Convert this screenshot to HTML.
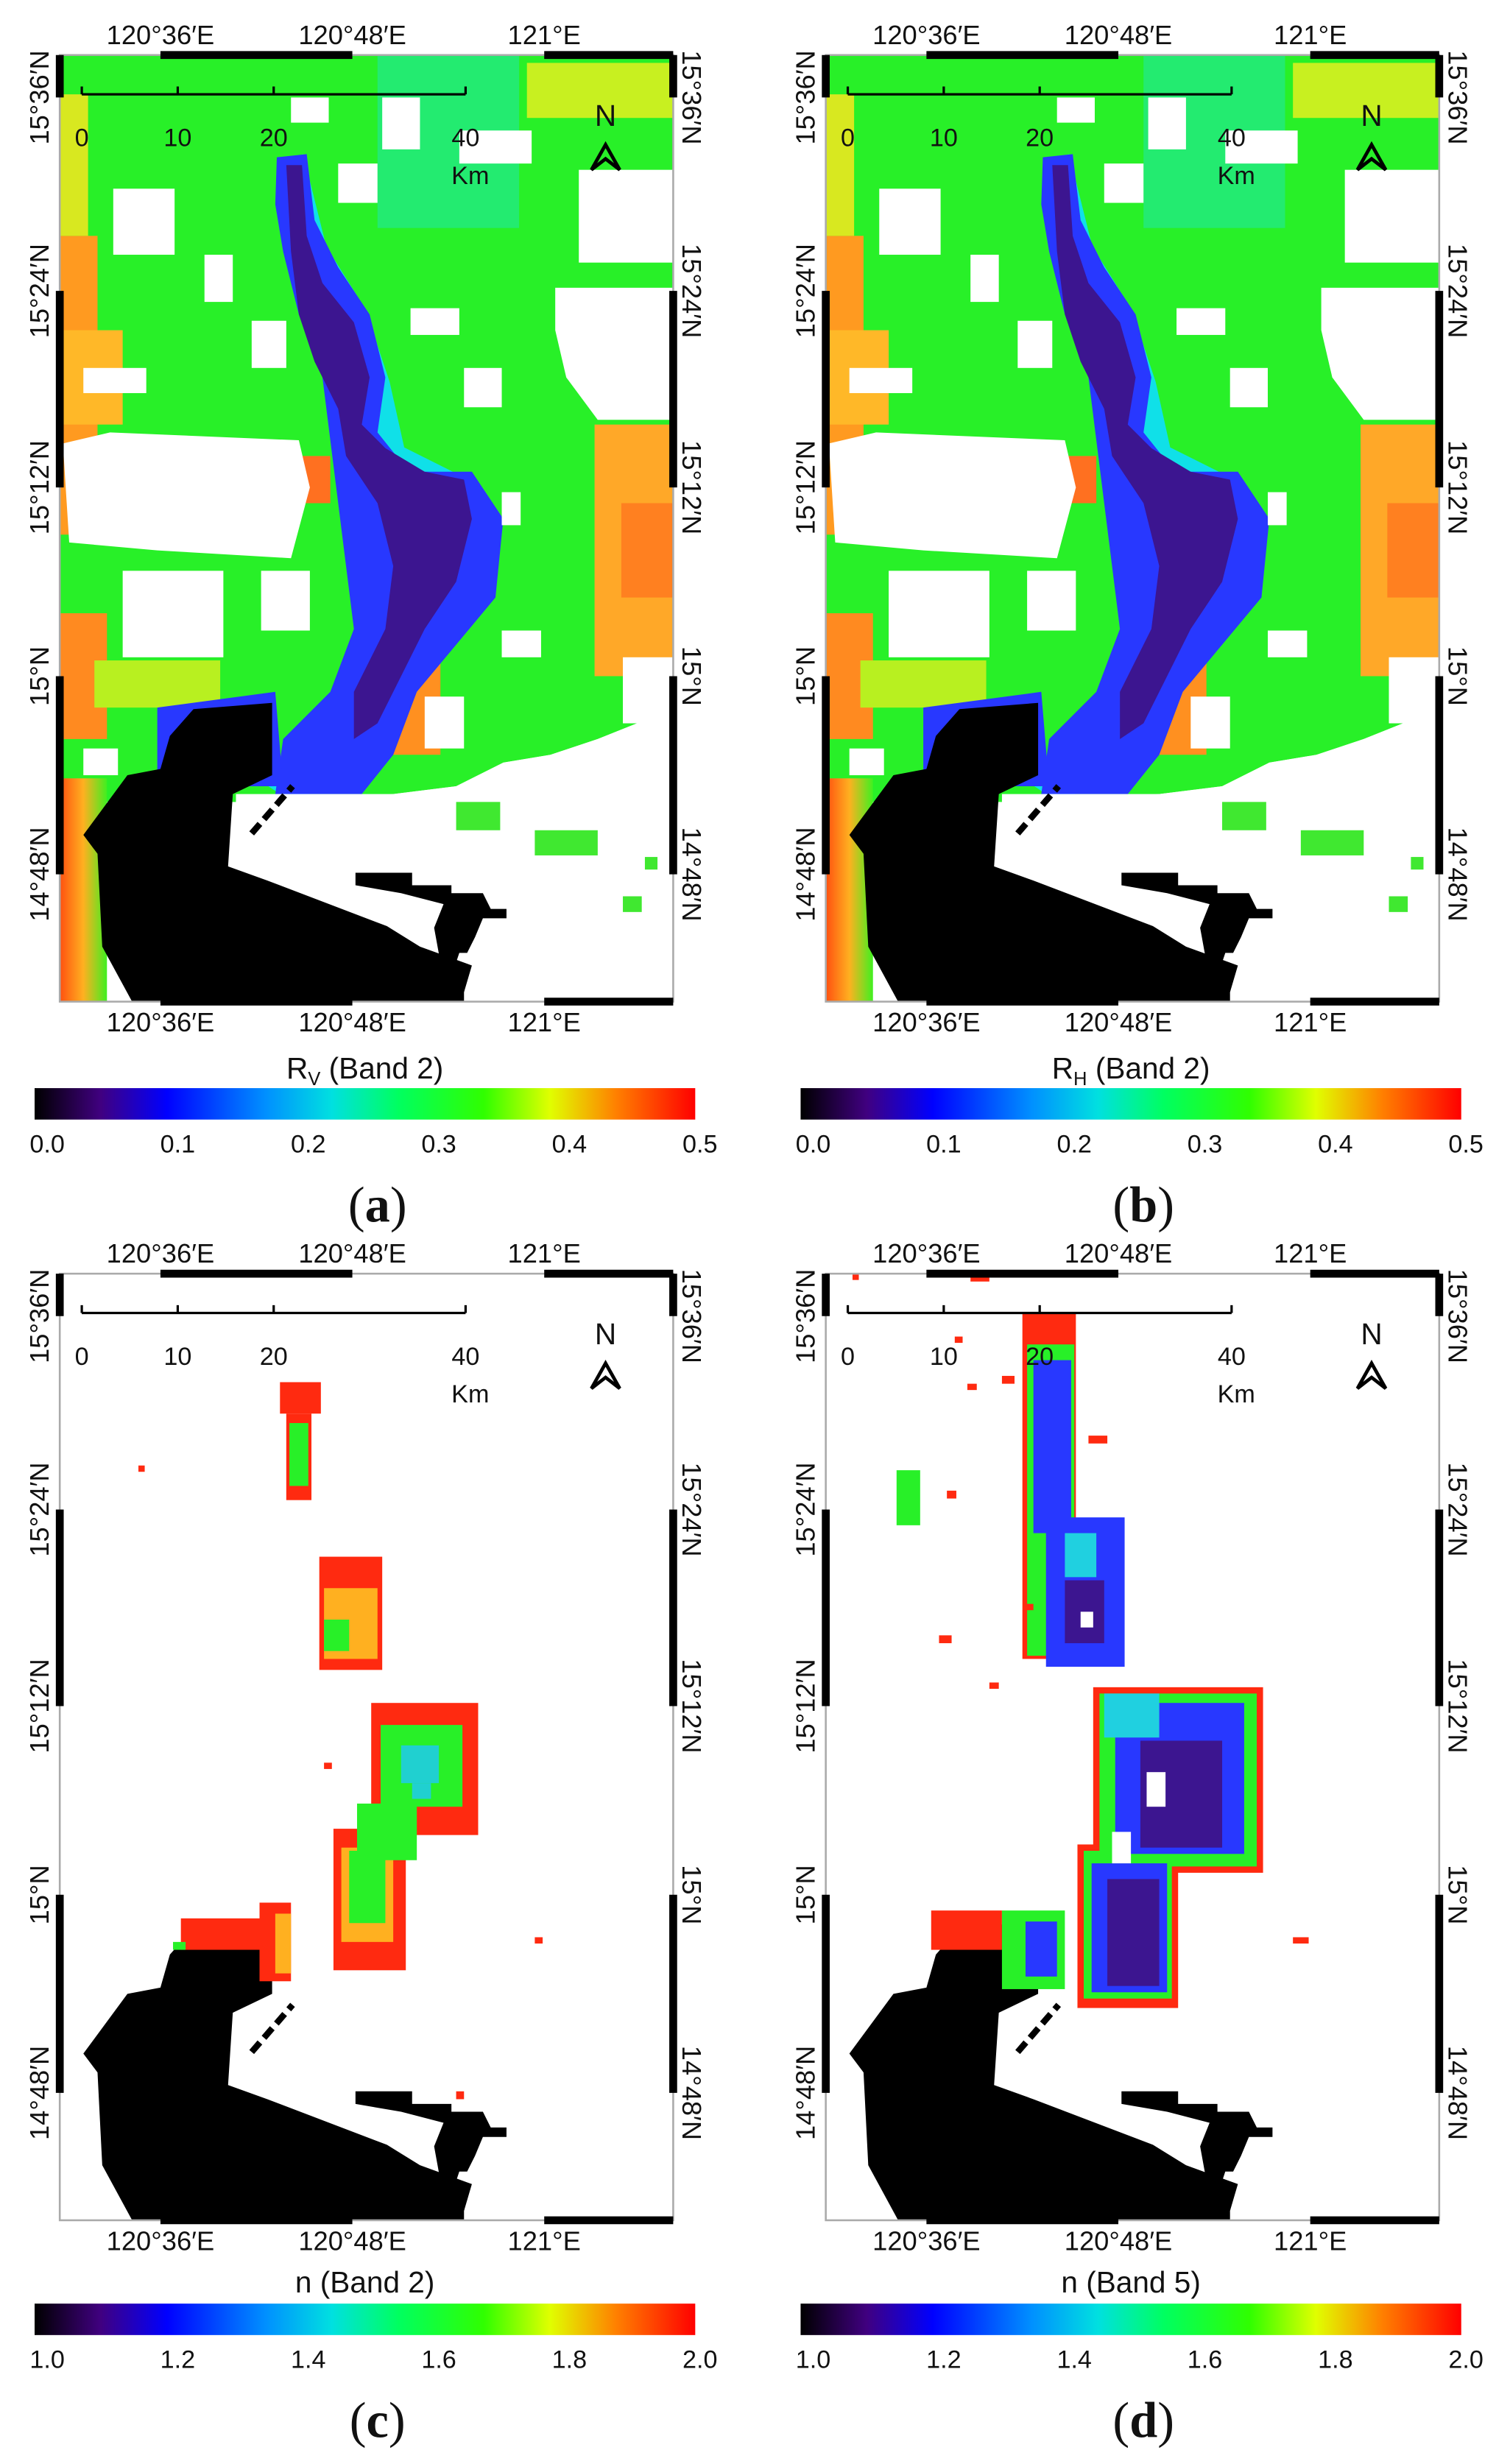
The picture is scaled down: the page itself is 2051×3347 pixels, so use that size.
<!DOCTYPE html>
<html><head><meta charset="utf-8"><style>
html,body{margin:0;padding:0;background:#fff;}
svg{display:block;}
text{font-family:"Liberation Sans",sans-serif;fill:#111;}
.t{font-size:17px;text-anchor:middle;}
.s{font-size:16px;text-anchor:middle;}
.lab{font-family:"Liberation Serif",serif;font-size:32px;text-anchor:middle;}
</style></head><body>
<svg width="2051" height="3347" viewBox="0 0 960 1567" preserveAspectRatio="none" xmlns="http://www.w3.org/2000/svg">
<defs>
<linearGradient id="jet" x1="0" x2="1" y1="0" y2="0">
<stop offset="0" stop-color="#000"/><stop offset="0.1" stop-color="#400080"/><stop offset="0.2" stop-color="#0000ff"/><stop offset="0.35" stop-color="#0090ff"/><stop offset="0.45" stop-color="#00e0e0"/><stop offset="0.55" stop-color="#00ff60"/><stop offset="0.68" stop-color="#30ff00"/><stop offset="0.78" stop-color="#e0ff00"/><stop offset="0.88" stop-color="#ff8000"/><stop offset="1" stop-color="#ff0000"/>
</linearGradient>
<linearGradient id="edge" x1="0" x2="1"><stop offset="0" stop-color="#ff5010"/><stop offset="0.5" stop-color="#ffb020"/><stop offset="1" stop-color="#40f020"/></linearGradient>
<clipPath id="clip"><rect x="38" y="35" width="390" height="602"/></clipPath>
<g id="bay">
<path fill="#000" d="M123,451 L173,447 L173,493 L148,505 L145,551 L170,560 L246,589 L267,602 L300,614 L295,631 L295,637 L84,637 L65,602 L62,543 L53,531 L81,493 L102,489 L108,468 Z"/>
<path fill="#000" d="M226,555 h36 v8 h25 v5 h20 l5,10 h10 v6 h-15 l-5,12 l-5,10 h-5 l-5,15 L296,631 L280,612 L276,590 L282,575 L255,568 L226,563 Z"/>
<path d="M160,530 L186,500" stroke="#000" stroke-width="4" stroke-dasharray="8,4"/>
</g>
<g id="frame">
<rect x="38" y="35" width="390" height="602" fill="none" stroke="#aaa" stroke-width="1.2"/>
<path d="M102,35 H224 M346,35 H428 M102,637 H224 M346,637 H428" stroke="#000" stroke-width="5"/>
<path d="M38,35 V62 M38,185 V310 M38,430 V556 M428,35 V62 M428,185 V310 M428,430 V556" stroke="#000" stroke-width="5"/>
<path d="M52,60 H296 M52,55 V60 M113,55 V60 M174,55 V60 M296,55 V60" stroke="#000" stroke-width="1.5" fill="none"/>
<path d="M376,108 L385,92 L394,108 L385,101 Z" fill="none" stroke="#000" stroke-width="2.2"/>
</g>
<g id="mapAB">
<path fill="#28f028" d="M38,35 H428 V440 L405,460 L380,470 L350,480 L320,485 L290,500 L250,505 L175,510 L38,510 Z"/>
<rect x="38" y="495" width="30" height="142" fill="url(#edge)"/>
<rect x="38" y="150" width="24" height="190" fill="#ff9a20"/>
<rect x="38" y="210" width="40" height="60" fill="#ffb828"/>
<rect x="38" y="390" width="30" height="80" fill="#ff8a20"/>
<rect x="38" y="60" width="18" height="90" fill="#d8e820"/>
<rect x="378" y="270" width="50" height="160" fill="#ffa828"/>
<rect x="395" y="320" width="33" height="60" fill="#ff8020"/>
<rect x="335" y="40" width="93" height="35" fill="#c8f020"/>
<rect x="245" y="420" width="35" height="60" fill="#ff9020"/>
<rect x="190" y="290" width="20" height="30" fill="#ff7020"/>
<rect x="60" y="420" width="80" height="30" fill="#b8f020"/>
<rect x="240" y="35" width="90" height="110" fill="#20e8a0" opacity="0.6"/>
<path fill="none" stroke="#10e0e8" stroke-width="16" stroke-linejoin="round" d="M185,100 L200,160 L225,200 L240,245 L250,290 L290,310 L305,350 L270,410 L250,450 L220,490 L185,500 L140,470"/>
<path fill="#2838ff" d="M176,100 L195,98 L200,140 L215,170 L235,200 L245,240 L240,275 L260,300 L300,300 L320,330 L315,380 L290,410 L265,440 L250,480 L230,505 L200,505 L175,505 L180,470 L210,440 L225,400 L220,360 L215,320 L210,280 L205,240 L190,200 L180,160 L175,130 Z"/>
<path fill="#3c1590" d="M182,105 L192,105 L195,150 L205,180 L225,205 L235,240 L230,270 L245,285 L270,300 L295,305 L300,330 L290,370 L270,400 L255,430 L240,460 L225,470 L225,440 L245,400 L250,360 L240,320 L220,290 L215,260 L200,230 L190,200 L185,160 Z"/>
<path fill="#2838ff" d="M100,450 L175,440 L180,500 L100,500 Z"/>
<g fill="#fff">
<rect x="185" y="62" width="24" height="16"/><rect x="215" y="104" width="25" height="25"/><rect x="243" y="62" width="24" height="33"/>
<rect x="292" y="83" width="46" height="21"/><rect x="72" y="120" width="39" height="42"/><rect x="130" y="162" width="18" height="30"/>
<rect x="160" y="204" width="22" height="30"/><rect x="261" y="196" width="31" height="17"/><rect x="368" y="108" width="60" height="59"/>
<path d="M353,183 H428 V267 H380 L360,240 L353,210 Z"/><rect x="53" y="234" width="40" height="16"/><rect x="295" y="234" width="24" height="25"/>
<path d="M40,282 L70,275 L190,280 L197,310 L185,355 L100,350 L44,345 Z"/><rect x="319" y="313" width="12" height="21"/>
<rect x="78" y="363" width="64" height="55"/><rect x="166" y="363" width="31" height="38"/><rect x="319" y="401" width="25" height="17"/>
<rect x="396" y="418" width="32" height="42"/><rect x="270" y="443" width="25" height="33"/><rect x="53" y="476" width="22" height="17"/>
<path d="M150,505 L250,505 L290,500 L320,485 L350,480 L380,470 L405,460 L428,440 V637 H150 Z"/>
</g>
<g fill="#40e830"><rect x="340" y="528" width="40" height="16"/><rect x="396" y="570" width="12" height="10"/><rect x="290" y="510" width="28" height="18"/><rect x="410" y="545" width="8" height="8"/></g>
<use href="#bay"/>
</g>
</defs>

<!-- Panel a -->
<g clip-path="url(#clip)"><use href="#mapAB"/></g>
<use href="#frame"/>
<g>
<text class="t" x="102" y="28">120°36′E</text><text class="t" x="224" y="28">120°48′E</text><text class="t" x="346" y="28">121°E</text>
<text class="t" x="102" y="656">120°36′E</text><text class="t" x="224" y="656">120°48′E</text><text class="t" x="346" y="656">121°E</text>
<text class="t" transform="translate(31,62) rotate(-90)">15°36′N</text><text class="t" transform="translate(31,185) rotate(-90)">15°24′N</text><text class="t" transform="translate(31,310) rotate(-90)">15°12′N</text><text class="t" transform="translate(31,430) rotate(-90)">15°N</text><text class="t" transform="translate(31,556) rotate(-90)">14°48′N</text>
<text class="t" transform="translate(434,62) rotate(90)">15°36′N</text><text class="t" transform="translate(434,185) rotate(90)">15°24′N</text><text class="t" transform="translate(434,310) rotate(90)">15°12′N</text><text class="t" transform="translate(434,430) rotate(90)">15°N</text><text class="t" transform="translate(434,556) rotate(90)">14°48′N</text>
<text class="s" x="52" y="93">0</text><text class="s" x="113" y="93">10</text><text class="s" x="174" y="93">20</text><text class="s" x="296" y="93">40</text><text class="s" x="299" y="117">Km</text>
<text class="t" x="385" y="80" style="font-size:19px">N</text>
<text class="t" x="232" y="686" style="font-size:19px">R<tspan font-size="12" dy="4">V</tspan><tspan dy="-4"> (Band 2)</tspan></text>
<rect x="22" y="692" width="420" height="20" fill="url(#jet)"/>
<text class="s" x="30" y="733">0.0</text><text class="s" x="113" y="733">0.1</text><text class="s" x="196" y="733">0.2</text><text class="s" x="279" y="733">0.3</text><text class="s" x="362" y="733">0.4</text><text class="s" x="445" y="733">0.5</text>
<text class="lab" x="240" y="777">(<tspan font-weight="bold">a</tspan>)</text>
</g>

<!-- Panel b -->
<g transform="translate(487,0)">
<g clip-path="url(#clip)"><use href="#mapAB"/></g>
<use href="#frame"/>
<text class="t" x="102" y="28">120°36′E</text><text class="t" x="224" y="28">120°48′E</text><text class="t" x="346" y="28">121°E</text>
<text class="t" x="102" y="656">120°36′E</text><text class="t" x="224" y="656">120°48′E</text><text class="t" x="346" y="656">121°E</text>
<text class="t" transform="translate(31,62) rotate(-90)">15°36′N</text><text class="t" transform="translate(31,185) rotate(-90)">15°24′N</text><text class="t" transform="translate(31,310) rotate(-90)">15°12′N</text><text class="t" transform="translate(31,430) rotate(-90)">15°N</text><text class="t" transform="translate(31,556) rotate(-90)">14°48′N</text>
<text class="t" transform="translate(434,62) rotate(90)">15°36′N</text><text class="t" transform="translate(434,185) rotate(90)">15°24′N</text><text class="t" transform="translate(434,310) rotate(90)">15°12′N</text><text class="t" transform="translate(434,430) rotate(90)">15°N</text><text class="t" transform="translate(434,556) rotate(90)">14°48′N</text>
<text class="s" x="52" y="93">0</text><text class="s" x="113" y="93">10</text><text class="s" x="174" y="93">20</text><text class="s" x="296" y="93">40</text><text class="s" x="299" y="117">Km</text>
<text class="t" x="385" y="80" style="font-size:19px">N</text>
<text class="t" x="232" y="686" style="font-size:19px">R<tspan font-size="12" dy="4">H</tspan><tspan dy="-4"> (Band 2)</tspan></text>
<rect x="22" y="692" width="420" height="20" fill="url(#jet)"/>
<text class="s" x="30" y="733">0.0</text><text class="s" x="113" y="733">0.1</text><text class="s" x="196" y="733">0.2</text><text class="s" x="279" y="733">0.3</text><text class="s" x="362" y="733">0.4</text><text class="s" x="445" y="733">0.5</text>
<text class="lab" x="240" y="777">(<tspan font-weight="bold">b</tspan>)</text>
</g>

<!-- Panel c -->
<g transform="translate(0,775)">
<g clip-path="url(#clip)">
<use href="#bay"/>
<g fill="#ff2a10"><rect x="178" y="104" width="26" height="20"/><rect x="182" y="124" width="16" height="55"/><rect x="203" y="215" width="40" height="72"/><rect x="236" y="308" width="68" height="84"/><rect x="212" y="388" width="46" height="90"/><rect x="115" y="445" width="55" height="20"/><rect x="165" y="435" width="20" height="50"/></g>
<g fill="#ffb020"><rect x="206" y="235" width="34" height="45"/><rect x="217" y="400" width="33" height="60"/><rect x="175" y="442" width="10" height="38"/></g>
<g fill="#28f028"><rect x="184" y="130" width="12" height="40"/><rect x="242" y="322" width="52" height="52"/><rect x="227" y="372" width="38" height="36"/><rect x="222" y="402" width="23" height="46"/><rect x="206" y="255" width="16" height="20"/><rect x="110" y="460" width="8" height="5"/></g>
<g fill="#20d0d0"><rect x="255" y="335" width="24" height="24"/><rect x="262" y="359" width="12" height="10"/></g>
<g fill="#ff2a10"><rect x="88" y="157" width="4" height="4"/><rect x="206" y="346" width="5" height="4"/><rect x="340" y="457" width="5" height="4"/><rect x="290" y="555" width="5" height="5"/></g>
</g>
<use href="#frame"/>
<text class="t" x="102" y="28">120°36′E</text><text class="t" x="224" y="28">120°48′E</text><text class="t" x="346" y="28">121°E</text>
<text class="t" x="102" y="656">120°36′E</text><text class="t" x="224" y="656">120°48′E</text><text class="t" x="346" y="656">121°E</text>
<text class="t" transform="translate(31,62) rotate(-90)">15°36′N</text><text class="t" transform="translate(31,185) rotate(-90)">15°24′N</text><text class="t" transform="translate(31,310) rotate(-90)">15°12′N</text><text class="t" transform="translate(31,430) rotate(-90)">15°N</text><text class="t" transform="translate(31,556) rotate(-90)">14°48′N</text>
<text class="t" transform="translate(434,62) rotate(90)">15°36′N</text><text class="t" transform="translate(434,185) rotate(90)">15°24′N</text><text class="t" transform="translate(434,310) rotate(90)">15°12′N</text><text class="t" transform="translate(434,430) rotate(90)">15°N</text><text class="t" transform="translate(434,556) rotate(90)">14°48′N</text>
<text class="s" x="52" y="93">0</text><text class="s" x="113" y="93">10</text><text class="s" x="174" y="93">20</text><text class="s" x="296" y="93">40</text><text class="s" x="299" y="117">Km</text>
<text class="t" x="385" y="80" style="font-size:19px">N</text>
<text class="t" x="232" y="683" style="font-size:19px">n (Band 2)</text>
<rect x="22" y="690" width="420" height="20" fill="url(#jet)"/>
<text class="s" x="30" y="731">1.0</text><text class="s" x="113" y="731">1.2</text><text class="s" x="196" y="731">1.4</text><text class="s" x="279" y="731">1.6</text><text class="s" x="362" y="731">1.8</text><text class="s" x="445" y="731">2.0</text>
<text class="lab" x="240" y="775">(<tspan font-weight="bold">c</tspan>)</text>
</g>

<!-- Panel d -->
<g transform="translate(487,775)">
<g clip-path="url(#clip)">
<use href="#bay"/>
<g fill="#ff2a10"><rect x="163" y="60" width="34" height="220"/><rect x="208" y="298" width="108" height="118"/><rect x="198" y="398" width="64" height="104"/><rect x="105" y="440" width="45" height="25"/></g>
<g fill="#28f028"><rect x="166" y="80" width="30" height="198"/><rect x="212" y="302" width="100" height="110"/><rect x="202" y="402" width="56" height="94"/><rect x="83" y="160" width="15" height="35"/><rect x="150" y="440" width="40" height="50"/></g>
<g fill="#2838ff"><rect x="170" y="90" width="24" height="110"/><rect x="178" y="190" width="50" height="95"/><rect x="222" y="308" width="82" height="96"/><rect x="207" y="410" width="48" height="82"/><rect x="165" y="447" width="20" height="35"/></g>
<g fill="#20d0e0"><rect x="215" y="302" width="35" height="28"/><rect x="190" y="200" width="20" height="28"/></g>
<g fill="#3c1590"><rect x="238" y="332" width="52" height="68"/><rect x="217" y="420" width="33" height="68"/><rect x="190" y="230" width="25" height="40"/></g>
<g fill="#fff"><rect x="242" y="352" width="12" height="22"/><rect x="220" y="390" width="12" height="20"/><rect x="200" y="250" width="8" height="10"/></g>
<g fill="#ff2a10"><rect x="120" y="75" width="5" height="4"/><rect x="128" y="105" width="6" height="4"/><rect x="150" y="100" width="8" height="5"/><rect x="205" y="138" width="12" height="5"/><rect x="115" y="173" width="6" height="5"/><rect x="165" y="245" width="5" height="4"/><rect x="142" y="295" width="6" height="4"/><rect x="110" y="265" width="8" height="5"/><rect x="335" y="457" width="10" height="4"/><rect x="55" y="35" width="4" height="4"/><rect x="130" y="35" width="12" height="5"/></g>
</g>
<use href="#frame"/>
<text class="t" x="102" y="28">120°36′E</text><text class="t" x="224" y="28">120°48′E</text><text class="t" x="346" y="28">121°E</text>
<text class="t" x="102" y="656">120°36′E</text><text class="t" x="224" y="656">120°48′E</text><text class="t" x="346" y="656">121°E</text>
<text class="t" transform="translate(31,62) rotate(-90)">15°36′N</text><text class="t" transform="translate(31,185) rotate(-90)">15°24′N</text><text class="t" transform="translate(31,310) rotate(-90)">15°12′N</text><text class="t" transform="translate(31,430) rotate(-90)">15°N</text><text class="t" transform="translate(31,556) rotate(-90)">14°48′N</text>
<text class="t" transform="translate(434,62) rotate(90)">15°36′N</text><text class="t" transform="translate(434,185) rotate(90)">15°24′N</text><text class="t" transform="translate(434,310) rotate(90)">15°12′N</text><text class="t" transform="translate(434,430) rotate(90)">15°N</text><text class="t" transform="translate(434,556) rotate(90)">14°48′N</text>
<text class="s" x="52" y="93">0</text><text class="s" x="113" y="93">10</text><text class="s" x="174" y="93">20</text><text class="s" x="296" y="93">40</text><text class="s" x="299" y="117">Km</text>
<text class="t" x="385" y="80" style="font-size:19px">N</text>
<text class="t" x="232" y="683" style="font-size:19px">n (Band 5)</text>
<rect x="22" y="690" width="420" height="20" fill="url(#jet)"/>
<text class="s" x="30" y="731">1.0</text><text class="s" x="113" y="731">1.2</text><text class="s" x="196" y="731">1.4</text><text class="s" x="279" y="731">1.6</text><text class="s" x="362" y="731">1.8</text><text class="s" x="445" y="731">2.0</text>
<text class="lab" x="240" y="775">(<tspan font-weight="bold">d</tspan>)</text>
</g>
</svg>
</body></html>
